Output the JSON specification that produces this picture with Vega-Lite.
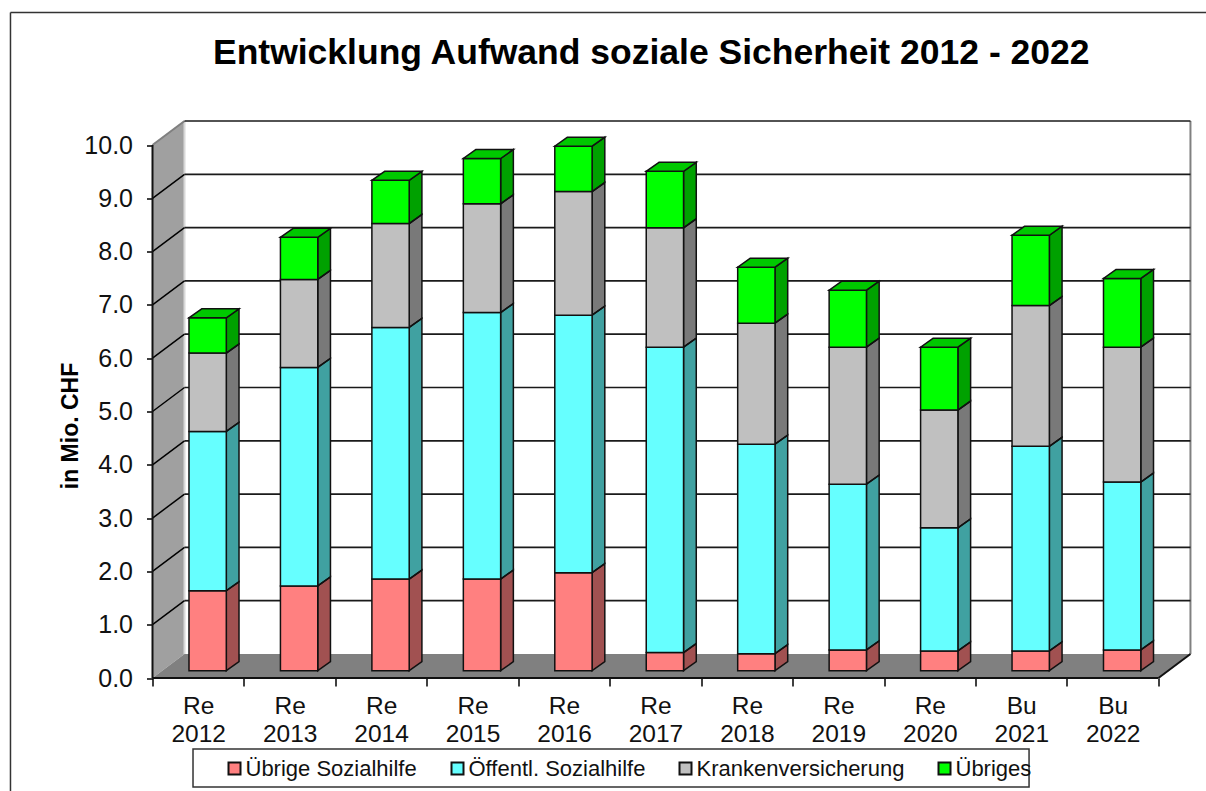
{
"$schema":"https://vega.github.io/schema/vega-lite/v6.json",
"width":1037.5,"height":556.5,
"autosize":{"type":"none"},
"padding":{"left":152.5,"top":121.5,"right":16,"bottom":113},
"background":"white",
"config":{"view":{"stroke":null},"font":"Liberation Sans"},
"title":{"text":"Entwicklung Aufwand soziale Sicherheit 2012 - 2022","font":"Liberation Sans","fontSize":35.5,"fontWeight":"bold","color":"#000","anchor":"middle","dx":-20,"offset":-60},
"datasets":{
"bars":[
{"i":0,"o":1,"s":"Übrige Sozialhilfe","value":1.50},{"i":0,"o":2,"s":"Öffentl. Sozialhilfe","value":2.99},{"i":0,"o":3,"s":"Krankenversicherung","value":1.47},{"i":0,"o":4,"s":"Übriges","value":0.66},
{"i":1,"o":1,"s":"Übrige Sozialhilfe","value":1.59},{"i":1,"o":2,"s":"Öffentl. Sozialhilfe","value":4.10},{"i":1,"o":3,"s":"Krankenversicherung","value":1.65},{"i":1,"o":4,"s":"Übriges","value":0.79},
{"i":2,"o":1,"s":"Übrige Sozialhilfe","value":1.72},{"i":2,"o":2,"s":"Öffentl. Sozialhilfe","value":4.72},{"i":2,"o":3,"s":"Krankenversicherung","value":1.95},{"i":2,"o":4,"s":"Übriges","value":0.81},
{"i":3,"o":1,"s":"Übrige Sozialhilfe","value":1.72},{"i":3,"o":2,"s":"Öffentl. Sozialhilfe","value":5.00},{"i":3,"o":3,"s":"Krankenversicherung","value":2.04},{"i":3,"o":4,"s":"Übriges","value":0.85},
{"i":4,"o":1,"s":"Übrige Sozialhilfe","value":1.84},{"i":4,"o":2,"s":"Öffentl. Sozialhilfe","value":4.83},{"i":4,"o":3,"s":"Krankenversicherung","value":2.32},{"i":4,"o":4,"s":"Übriges","value":0.85},
{"i":5,"o":1,"s":"Übrige Sozialhilfe","value":0.34},{"i":5,"o":2,"s":"Öffentl. Sozialhilfe","value":5.73},{"i":5,"o":3,"s":"Krankenversicherung","value":2.24},{"i":5,"o":4,"s":"Übriges","value":1.06},
{"i":6,"o":1,"s":"Übrige Sozialhilfe","value":0.32},{"i":6,"o":2,"s":"Öffentl. Sozialhilfe","value":3.93},{"i":6,"o":3,"s":"Krankenversicherung","value":2.27},{"i":6,"o":4,"s":"Übriges","value":1.05},
{"i":7,"o":1,"s":"Übrige Sozialhilfe","value":0.39},{"i":7,"o":2,"s":"Öffentl. Sozialhilfe","value":3.11},{"i":7,"o":3,"s":"Krankenversicherung","value":2.57},{"i":7,"o":4,"s":"Übriges","value":1.07},
{"i":8,"o":1,"s":"Übrige Sozialhilfe","value":0.37},{"i":8,"o":2,"s":"Öffentl. Sozialhilfe","value":2.31},{"i":8,"o":3,"s":"Krankenversicherung","value":2.21},{"i":8,"o":4,"s":"Übriges","value":1.18},
{"i":9,"o":1,"s":"Übrige Sozialhilfe","value":0.37},{"i":9,"o":2,"s":"Öffentl. Sozialhilfe","value":3.84},{"i":9,"o":3,"s":"Krankenversicherung","value":2.64},{"i":9,"o":4,"s":"Übriges","value":1.32},
{"i":10,"o":1,"s":"Übrige Sozialhilfe","value":0.39},{"i":10,"o":2,"s":"Öffentl. Sozialhilfe","value":3.15},{"i":10,"o":3,"s":"Krankenversicherung","value":2.53},{"i":10,"o":4,"s":"Übriges","value":1.29}
],
"grid":[{"v":0},{"v":1},{"v":2},{"v":3},{"v":4},{"v":5},{"v":6},{"v":7},{"v":8},{"v":9},{"v":10}],
"wall":[{"x":0,"lo":0,"hi":10},{"x":0.35,"lo":0.45,"hi":10.45}],
"floor":[{"y":0,"xa":0,"xb":11},{"y":0.45,"xa":0.35,"xb":11.35}],
"edges":[
{"k":"front","x":0,"x2":0,"y":0,"y2":10},
{"k":"front","x":0,"x2":11,"y":0,"y2":0},
{"k":"front","x":11,"x2":11.35,"y":0,"y2":0.45},
{"k":"gray","x":11.35,"x2":11.35,"y":0.45,"y2":10.45},
{"k":"gray","x":0,"x2":0.35,"y":10,"y2":10.45},
{"k":"light","x":0.35,"x2":0.35,"y":0.45,"y2":10.45},
{"k":"frame","x":-1.553,"x2":11.52,"y":12.486,"y2":12.486},
{"k":"frame","x":-1.553,"x2":-1.553,"y":12.486,"y2":-2.12}
],
"box":[{"x":0.443,"x2":9.585,"y":-1.332,"y2":-2.045}]
},
"layer":[
{"data":{"name":"wall"},"mark":{"type":"area","orient":"vertical","color":"#A0A0A0"},
"encoding":{
"x":{"field":"x","type":"quantitative","title":null,"scale":{"domain":[0,11.345],"nice":false,"zero":false},
"axis":{"values":[0,1,2,3,4,5,6,7,8,9,10,11],"grid":false,"domain":false,"tickColor":"#000","tickWidth":1.5,"tickSize":8,"labelOffset":45.7,"labelBound":false,"labelFlush":false,"labelOverlap":false,"labelFont":"Liberation Sans","labelFontSize":24.5,"labelColor":"#111","labelPadding":8,"labelLineHeight":28,"labelAngle":0,"labelExpr":"datum.value>10?'':[datum.value>8?'Bu':'Re',''+(2012+datum.value)]"}},
"y":{"field":"lo","type":"quantitative","stack":null,"title":"in Mio. CHF","scale":{"domain":[0,10.441],"nice":false,"zero":false},
"axis":{"values":[0,1,2,3,4,5,6,7,8,9,10],"format":".1f","grid":false,"domain":false,"tickColor":"#000","tickWidth":1.5,"tickSize":6,"labelFont":"Liberation Sans","labelFontSize":25,"labelColor":"#111","labelPadding":14,"titleFont":"Liberation Sans","titleFontSize":23,"titleFontWeight":"bold","titleColor":"#000","titleX":-70,"titleY":304,"titleAngle":-90}},
"y2":{"field":"hi"}}},
{"data":{"name":"floor"},"mark":{"type":"area","orient":"horizontal","color":"#808080"},
"encoding":{"y":{"field":"y","type":"quantitative","stack":null,"title":"in Mio. CHF"},"x":{"field":"xa","type":"quantitative","title":null},"x2":{"field":"xb"}}},
{"data":{"name":"edges"},"transform":[{"filter":"datum.k==='light'"}],"mark":{"type":"rule","color":"#D8D8D8","strokeWidth":2},
"encoding":{"x":{"field":"x","type":"quantitative","title":null},"x2":{"field":"x2"},"y":{"field":"y","type":"quantitative","title":"in Mio. CHF"},"y2":{"field":"y2"}}},
{"data":{"name":"edges"},"transform":[{"filter":"datum.k==='gray'"}],"mark":{"type":"rule","color":"#808080","strokeWidth":2},
"encoding":{"x":{"field":"x","type":"quantitative","title":null},"x2":{"field":"x2"},"y":{"field":"y","type":"quantitative","title":"in Mio. CHF"},"y2":{"field":"y2"}}},
{"data":{"name":"grid"},"transform":[{"filter":"datum.v>0"},{"calculate":"datum.v+0.45","as":"b"}],"mark":{"type":"rule","color":"#1a1a1a","strokeWidth":1.7},
"encoding":{"x":{"datum":0.35,"type":"quantitative","title":null},"x2":{"datum":11.35},"y":{"field":"b","type":"quantitative","title":"in Mio. CHF"}}},
{"data":{"name":"grid"},"transform":[{"filter":"datum.v>0 && datum.v<10"},{"calculate":"datum.v+0.45","as":"b"}],"mark":{"type":"rule","color":"#000","strokeWidth":1.5},
"encoding":{"x":{"datum":0,"type":"quantitative","title":null},"x2":{"datum":0.35},"y":{"field":"v","type":"quantitative","title":"in Mio. CHF"},"y2":{"field":"b"}}},
{"data":{"name":"edges"},"transform":[{"filter":"datum.k==='front'"}],"mark":{"type":"rule","color":"#111","strokeWidth":2},
"encoding":{"x":{"field":"x","type":"quantitative","title":null},"x2":{"field":"x2"},"y":{"field":"y","type":"quantitative","title":"in Mio. CHF"},"y2":{"field":"y2"}}},
{"data":{"name":"edges"},"transform":[{"filter":"datum.k==='frame'"}],"mark":{"type":"rule","color":"#333","strokeWidth":1.5,"clip":false},
"encoding":{"x":{"field":"x","type":"quantitative","title":null},"x2":{"field":"x2"},"y":{"field":"y","type":"quantitative","title":"in Mio. CHF"},"y2":{"field":"y2"}}},
{"data":{"name":"box"},"mark":{"type":"rect","fill":"white","stroke":"#333","strokeWidth":1.5},
"encoding":{"x":{"field":"x","type":"quantitative","title":null},"x2":{"field":"x2"},"y":{"field":"y","type":"quantitative","title":"in Mio. CHF"},"y2":{"field":"y2"}}},
{"data":{"name":"bars"},"transform":[
{"stack":"value","groupby":["i"],"sort":[{"field":"o","order":"ascending"}],"as":["y0","y1"]},
{"calculate":"datum.y0+0.137","as":"a"},{"calculate":"datum.y1+0.137","as":"b"},
{"fold":["a","b"],"as":["k","v"]},
{"calculate":"datum.i+(datum.k==='a'?0.807:0.946)","as":"xs"},
{"calculate":"datum.a+(datum.k==='a'?0:0.169)","as":"lo"},
{"calculate":"datum.b+(datum.k==='a'?0:0.169)","as":"hi"}],
"mark":{"type":"area","orient":"vertical"},
"encoding":{"x":{"field":"xs","type":"quantitative","title":null},"y":{"field":"lo","type":"quantitative","stack":null,"title":"in Mio. CHF"},"y2":{"field":"hi"},"detail":{"field":"i"},"fill":{"field":"s","type":"nominal","sort":["Übrige Sozialhilfe","Öffentl. Sozialhilfe","Krankenversicherung","Übriges"],"scale":{"domain":["Übrige Sozialhilfe","Öffentl. Sozialhilfe","Krankenversicherung","Übriges"],"range":["#FF8080","#66FFFF","#C0C0C0","#00FF00"]},
"legend":{"title":null,"orient":"none","legendX":71,"legendY":636,"direction":"horizontal","columns":4,"gridAlign":"none","columnPadding":29,"symbolType":"square","symbolSize":144,"symbolStrokeColor":"#111","symbolStrokeWidth":2,"symbolOpacity":1,"labelFont":"Liberation Sans","labelFontSize":22,"labelColor":"#111","labelOffset":0,"labelLimit":300,"padding":0}}}},
{"data":{"name":"bars"},"transform":[
{"stack":"value","groupby":["i"],"sort":[{"field":"o","order":"ascending"}],"as":["y0","y1"]},
{"calculate":"datum.y0+0.137","as":"a"},{"calculate":"datum.y1+0.137","as":"b"},
{"fold":["a","b"],"as":["k","v"]},
{"calculate":"datum.i+(datum.k==='a'?0.807:0.946)","as":"xs"},
{"calculate":"datum.a+(datum.k==='a'?0:0.169)","as":"lo"},
{"calculate":"datum.b+(datum.k==='a'?0:0.169)","as":"hi"},
{"calculate":"datum.i*10+datum.o","as":"seg"}],
"mark":{"type":"area","orient":"vertical","fill":"#000","fillOpacity":0.37,"stroke":"#111","strokeWidth":1.5},
"encoding":{"x":{"field":"xs","type":"quantitative","title":null},"y":{"field":"lo","type":"quantitative","stack":null,"title":"in Mio. CHF"},"y2":{"field":"hi"},"detail":{"field":"seg"}}},
{"data":{"name":"bars"},"transform":[
{"stack":"value","groupby":["i"],"sort":[{"field":"o","order":"ascending"}],"as":["y0","y1"]},
{"calculate":"datum.y0+0.137","as":"a"},{"calculate":"datum.y1+0.137","as":"b"},
{"calculate":"datum.i+0.399","as":"l"},{"calculate":"datum.i+0.807","as":"r"}],
"mark":{"type":"rect","stroke":"#111","strokeWidth":1.5},
"encoding":{"x":{"field":"l","type":"quantitative","title":null},"x2":{"field":"r"},"y":{"field":"a","type":"quantitative","title":"in Mio. CHF"},"y2":{"field":"b"},
"fill":{"field":"s","type":"nominal","sort":["Übrige Sozialhilfe","Öffentl. Sozialhilfe","Krankenversicherung","Übriges"]}}},
{"data":{"name":"bars"},"transform":[
{"stack":"value","groupby":["i"],"sort":[{"field":"o","order":"ascending"}],"as":["y0","y1"]},
{"filter":"datum.o===4"},
{"calculate":"datum.y1+0.137","as":"b"},
{"fold":["b","y1"],"as":["k","v"]},
{"calculate":"datum.b+(datum.k==='b'?0:0.169)","as":"yy"},
{"calculate":"datum.i+(datum.k==='b'?0.399:0.538)","as":"l"},
{"calculate":"datum.i+(datum.k==='b'?0.807:0.946)","as":"r"}],
"mark":{"type":"area","orient":"horizontal","fill":"#00C800","stroke":"#111","strokeWidth":1.5},
"encoding":{"y":{"field":"yy","type":"quantitative","stack":null,"title":"in Mio. CHF"},"x":{"field":"l","type":"quantitative","title":null},"x2":{"field":"r"},"detail":{"field":"i"}}}
]
}
